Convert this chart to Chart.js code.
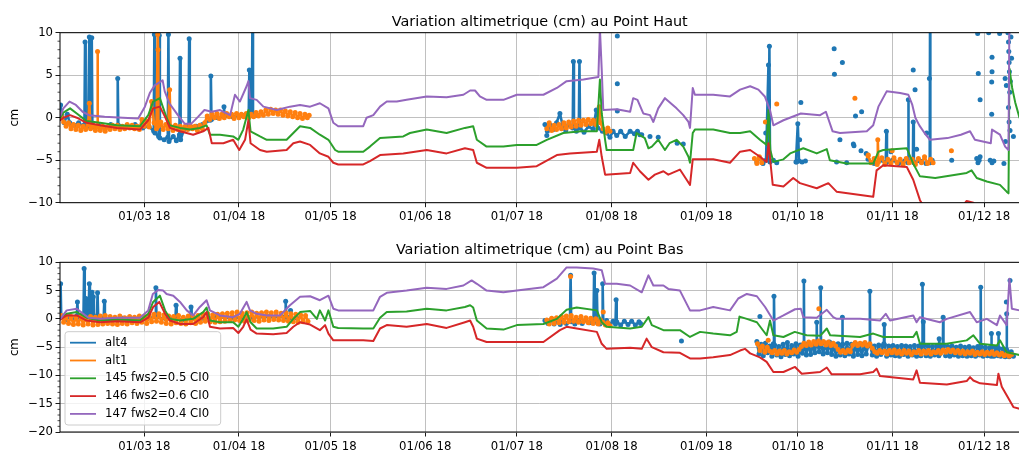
<!DOCTYPE html>
<html>
<head>
<meta charset="utf-8">
<script src="https://cdn.jsdelivr.net/npm/chart.js@4.4.0/dist/chart.umd.min.js"></script>
<style>
  body { margin: 0; background: #fff; }
  #fig { position: relative; width: 1019px; height: 450px; overflow: hidden; }
  #fig canvas { position: absolute; left: 0; }
</style>
</head>
<body>
<div id="fig">
  <canvas id="haut" width="1030" height="225" style="top:0"></canvas>
  <canvas id="bas" width="1030" height="225" style="top:225px"></canvas>
</div>
<script>
// x values are days counted from 1 Jan 2018 (day 0), y values in cm
const tickDays = [59, 90, 120, 151, 181, 212, 243, 273, 304, 334]
const tickLabels = ['01/03 18', '01/04 18', '01/05 18', '01/06 18', '01/07 18',
                    '01/08 18', '01/09 18', '01/10 18', '01/11 18', '01/12 18']
const seriesNames = ['alt4', 'alt1', '145 fws2=0.5 CI0', '146 fws2=0.6 CI0', '147 fws2=0.4 CI0']
const seriesColors = ['#1f77b4', '#ff7f0e', '#2ca02c', '#d62728', '#9467bd']

// ---------- Point Haut ----------
const hautAlt4 = [
  [31.6,1.5],[32.0,0.3],[32.8,-0.6],[33.8,0.4],[34.6,-0.6],[36.0,-0.9],[37.5,-0.6],[39.0,-1.0],
  [39.4,-0.8],[39.6,8.9],[39.8,-0.9],[40.6,-1.0],[41.0,9.5],[41.2,-0.8],[41.6,-1.0],[41.8,9.4],
  [42.0,-1.1],[44.0,-0.9],[46.0,-1.2],[48.0,-0.8],[50.1,-1.0],[50.3,4.6],[50.5,-0.9],[53.0,-1.1],
  [56.0,-0.8],[58.5,-1.2],[60.5,-1.0],[62.1,-1.6],[62.3,9.8],[62.5,-1.8],[63.7,-2.2],[63.9,9.7],
  [64.1,-2.4],[65.5,-2.6],[66.7,-2.3],[66.9,9.8],[67.1,-2.8],[68.5,-2.2],[69.5,-2.7],[70.5,-2.0],
  [70.7,7.0],[70.9,-2.6],[72.0,-1.4],[73.5,-1.0],[73.7,9.3],[73.9,-1.0],[76.0,-1.0],[78.0,-0.8],
  [80.6,-0.3],[80.8,4.9],[81.0,-0.2],[83.0,0.0],[84.9,0.2],[85.1,1.3],[85.3,0.2],[88.0,0.1],
  [91.0,0.3],[93.2,0.4],[93.4,5.6],[93.6,0.4],[94.2,0.3],[94.4,10.5],[94.6,0.4],[96.0,0.3],[96.1,null],
  [190.2,-0.8],[191.0,-1.6],[192.0,-0.9],[193.0,-1.4],[194.0,-0.6],[195.1,0.5],[196.0,-0.9],[197.0,-1.5],
  [198.0,-0.8],[199.3,-1.2],[199.5,6.6],[199.7,-1.0],[200.5,-1.6],[201.3,-1.0],[201.5,6.6],[201.7,-1.2],
  [203.0,-1.7],[204.5,-1.0],[206.0,-1.4],[207.0,0.9],[207.5,-1.2],[209.0,-1.6],[210.4,-1.8],[211.5,-2.3],
  [212.5,-1.6],[213.7,-2.1],[215.0,-1.6],[216.5,-2.2],[218.1,-1.6],[219.5,-1.9],[220.5,-1.6],[221.3,-2.0],[221.4,null],
  [259.6,-5.2],[260.6,-4.8],[261.6,-5.4],[262.6,-5.0],[263.4,6.2],[263.5,-4.9],[263.7,8.4],[263.9,-5.2],
  [265.0,-5.0],[266.1,-5.3],[266.2,null],
  [272.4,-5.2],[273.0,-0.7],[273.4,-5.1],[273.5,null],
  [296.0,-4.9],[298.0,-5.4],[300.0,-5.0],[301.8,-5.3],[302.0,-1.6],[302.2,-5.2],[304.0,-5.0],[306.0,-5.4],
  [308.0,-5.1],[309.1,-5.3],[309.2,2.1],[309.3,-5.2],[310.7,-5.0],[310.8,-0.5],[311.0,-5.3],[313.0,-5.1],
  [315.0,-5.4],[316.2,-5.2],[316.3,10.5],[316.4,-5.3],[317.0,-5.0]
]
const hautAlt4Dots = [
  [190.8,-2.1],[213.9,9.6],[213.9,4.0],[213.9,0.8],[221.9,-2.0],[224.6,-2.2],[227.3,-2.3],[233.5,-3.0],
  [235.5,-3.1],[262.5,-1.8],[272.6,-5.2],[273.6,-2.6],[274.0,1.8],[274.4,-5.2],[275.5,-5.1],[284.9,8.1],
  [285.0,5.1],[285.7,-5.2],[286.8,-2.6],[287.6,6.5],[289.0,-5.3],[291.2,-3.1],[291.4,-3.3],[291.9,0.2],
  [293.7,-3.9],[293.9,0.7],[295.4,-4.2],[303.5,-4.0],[310.8,5.6],[311.4,3.3],[311.9,-3.7],[315.2,-1.8],
  [316.1,4.6],[323.4,-5.0],[331.6,-4.8],[331.9,9.9],[332.0,-5.3],[332.1,5.2],[332.4,-5.0],[332.7,-4.6],
  [332.7,2.1],[335.5,10.0],[336.0,-5.0],[336.5,4.2],[336.5,0.4],[336.6,7.1],[336.6,5.4],[336.6,-5.3],
  [337.2,-5.1],[339.1,9.9],[340.5,-5.4],[340.9,4.6],[341.0,-2.8],[341.3,3.8],[341.8,10.0],[342.0,8.9],
  [342.0,1.2],[342.1,7.8],[342.2,6.5],[342.2,-0.5],[342.3,5.4],[342.4,3.0],[342.5,-1.5],[342.6,4.3],
  [342.8,9.5],[343.0,7.0],[343.6,-2.2]
]
const hautAlt1 = [
  [31.8,0.3],[32.6,-0.5],[33.4,-1.0],[34.2,-0.6],[35.0,-1.3],[35.8,-0.8],[36.6,-1.4],[37.4,-0.9],
  [38.2,-1.5],[39.0,-1.0],[39.8,-1.4],[40.6,-0.8],[41.0,1.7],[41.4,-1.3],[42.2,-0.9],[43.0,-1.5],
  [43.6,-1.0],[43.7,7.8],[43.8,-1.1],[44.6,-1.5],[45.4,-1.0],[46.2,-1.6],[47.0,-1.1],[47.8,-1.4],
  [48.6,-0.9],[49.4,-1.3],[50.2,-0.9],[51.0,-1.4],[51.8,-1.0],[52.6,-1.3],[53.4,-0.8],[54.2,-1.2],
  [55.0,-0.9],[55.8,-1.3],[56.6,-1.0],[57.4,-1.4],[58.2,-0.2],[59.0,-1.0],[59.8,-0.4],[60.6,-1.1],
  [61.4,1.9],[62.2,-0.6],[63.0,-1.3],[63.4,9.8],[63.5,8.0],[63.6,-1.0],[64.4,-0.5],[65.2,-1.4],
  [66.0,-0.8],[66.8,-1.3],[67.3,3.3],[67.6,-1.0],[68.4,-1.5],[69.2,-0.9],[70.0,-1.4],[70.8,-1.0],
  [71.6,-1.5],[72.4,-1.0],[73.2,-1.4],[74.0,-0.9],[74.8,-1.3],[75.6,-1.0],[76.4,-1.5],[77.2,-0.9],
  [78.0,-1.3],[78.8,-0.6],[79.6,0.2],[80.4,-0.2],[81.2,0.4],[82.0,0.0],[82.8,0.5],[83.6,-0.1],
  [84.4,0.4],[85.2,0.0],[86.0,0.5],[86.8,0.1],[87.6,0.4],[88.4,-0.1],[89.2,0.5],[90.0,0.0],
  [90.8,0.4],[91.6,0.1],[92.4,0.5],[93.2,0.0],[94.0,0.4],[94.8,0.1],[95.6,0.6],[96.4,0.2],
  [97.2,0.7],[98.0,0.3],[98.8,0.9],[99.6,0.4],[100.4,1.0],[101.2,0.5],[102.0,0.9],[102.8,0.4],
  [103.6,0.9],[104.4,0.3],[105.2,0.8],[106.0,0.2],[106.8,0.7],[107.6,0.1],[108.4,0.6],[109.2,0.0],
  [110.0,0.5],[110.8,-0.1],[111.6,0.4],[112.4,0.0],[113.0,0.3],[113.1,null],
  [190.8,-1.3],[191.6,-0.6],[192.4,-1.5],[193.2,-0.9],[194.0,-1.4],[194.8,-0.8],[195.6,-1.3],[196.4,-0.6],
  [197.2,-1.2],[198.0,-0.5],[198.8,-1.1],[199.6,-0.4],[200.4,-1.0],[201.2,-0.3],[202.0,-0.9],[202.8,-0.3],
  [203.6,-0.8],[204.4,-0.2],[205.2,-0.7],[206.0,-0.3],[206.8,-0.8],[207.6,-0.2],[208.0,1.3],[208.4,-0.6],
  [209.2,-1.3],[210.0,-1.7],[210.8,-1.2],[211.5,-1.6],[211.6,null],
  [258.8,-4.8],[259.6,-5.4],[260.4,-4.6],[261.2,-5.3],[261.6,null],
  [296.0,-4.5],[297.0,-5.3],[298.0,-4.8],[299.0,-5.5],[299.2,-2.6],[299.4,-5.2],[300.5,-4.7],[301.5,-5.5],
  [302.5,-4.9],[303.5,-5.4],[304.5,-4.7],[305.5,-5.3],[306.5,-4.9],[307.5,-5.5],[308.5,-4.8],[309.5,-5.3],
  [310.5,-4.9],[311.5,-5.5],[312.5,-4.8],[313.5,-5.3],[314.5,-4.6],[315.5,-5.4],[316.5,-4.9],[317.3,-5.3]
]
const hautAlt1Dots = [[262.4,-0.5],[266.1,1.6],[291.7,2.3],[296.1,-4.4],[303.9,-3.9],[323.3,-3.9]]
const haut145 = [
  [31.5,0.0],[32.5,0.6],[34.7,1.1],[36.9,0.5],[40.1,-0.4],[44.5,-0.6],[50.0,-0.9],[57.6,-1.0],
  [60.3,0.3],[61.9,1.9],[64.1,2.3],[66.3,0.0],[67.4,-0.9],[70.7,-1.2],[74.0,-1.4],[77.2,-1.2],
  [79.4,-0.9],[80.5,-2.0],[83.8,-2.0],[88.1,-2.2],[89.8,-2.6],[91.4,-1.4],[93.1,0.9],[93.8,-1.6],
  [96.9,-2.2],[99.1,-2.6],[105.6,-2.6],[107.8,-1.8],[110.0,-1.0],[113.3,-1.2],[116.5,-2.0],[119.3,-2.6],
  [121.5,-3.8],[122.5,-4.0],[130.7,-4.0],[132.9,-3.4],[136.2,-2.4],[143.8,-2.2],[146.0,-1.8],[151.5,-1.4],
  [158.0,-1.8],[164.0,-1.2],[166.7,-1.0],[167.9,-2.6],[171.1,-3.4],[176.6,-3.4],[181.0,-3.2],[187.5,-3.2],
  [190.8,-2.6],[196.2,-1.8],[202.0,-1.6],[207.2,-1.6],[208.2,4.5],[208.8,0.5],[209.9,-2.6],[210.4,-3.8],
  [219.1,-3.8],[220.2,-1.8],[222.9,-2.4],[224.1,-3.6],[225.2,-3.4],[227.3,-2.6],[229.5,-3.8],[231.0,-3.0],
  [233.3,-2.6],[235.5,-3.4],[237.2,-4.6],[237.7,-5.3],[238.6,-1.8],[239.3,-1.4],[245.3,-1.4],[250.8,-1.8],
  [254.1,-1.8],[257.4,-1.6],[260.6,-2.6],[262.8,-3.2],[263.4,0.9],[264.0,-3.8],[265.0,-5.2],[268.3,-4.9],
  [270.5,-4.2],[274.8,-3.6],[279.2,-4.2],[282.5,-3.7],[283.5,-5.0],[289.0,-5.4],[297.7,-5.4],[299.4,-4.0],
  [301.0,-3.8],[308.7,-3.6],[310.8,-5.4],[313.0,-6.9],[318.0,-7.1],[328.3,-6.5],[329.9,-6.2],[331.6,-7.1],
  [334.9,-7.5],[339.2,-7.9],[341.4,-8.7],[342.0,-8.9],[342.3,5.8],[343.2,3.5],[344.2,1.8],[345.6,0.0]
]
const haut146 = [
  [31.5,-0.3],[32.5,0.0],[34.7,0.3],[36.9,0.0],[40.1,-0.6],[44.5,-0.9],[50.0,-1.2],[57.6,-1.4],
  [60.3,-0.3],[61.9,1.1],[64.1,1.3],[65.8,0.1],[67.4,-1.2],[70.7,-1.6],[75.0,-2.0],[78.3,-1.6],
  [80.0,-1.2],[81.1,-3.0],[84.9,-3.0],[88.1,-2.6],[90.1,-3.8],[92.0,-2.6],[93.1,-0.3],[93.8,-3.0],
  [96.9,-3.8],[99.1,-4.0],[105.6,-3.8],[107.8,-3.0],[110.0,-2.8],[113.3,-3.2],[116.5,-4.2],[119.3,-4.6],
  [120.9,-5.3],[122.5,-5.5],[130.7,-5.5],[132.9,-5.1],[136.2,-4.4],[143.8,-4.2],[151.5,-3.8],[158.0,-4.2],
  [164.0,-3.6],[166.7,-3.8],[167.9,-5.3],[171.1,-5.9],[181.0,-5.9],[187.5,-5.7],[194.1,-4.4],[198.4,-4.2],
  [207.2,-4.0],[208.0,-2.6],[208.8,-4.6],[209.9,-6.7],[218.1,-6.5],[219.1,-5.3],[221.3,-6.3],[224.1,-7.3],
  [226.2,-6.7],[229.0,-6.3],[230.6,-6.7],[234.4,-6.1],[236.6,-7.3],[237.7,-7.9],[238.6,-4.9],[245.3,-4.9],
  [250.8,-5.3],[254.1,-4.0],[257.4,-3.8],[260.6,-4.6],[262.8,-5.2],[263.4,-3.0],[264.2,-5.8],[264.8,-7.9],
  [268.3,-8.1],[271.5,-7.1],[273.7,-7.7],[279.2,-8.3],[283.0,-7.7],[285.7,-8.7],[297.7,-9.3],[298.8,-6.2],
  [301.0,-5.6],[308.7,-5.8],[310.8,-7.3],[313.0,-9.7],[314.5,-10.6],[326.0,-10.8],[328.3,-9.8],[330.5,-10.0],
  [331.5,-10.7],[340.0,-11.2],[345.6,-11.5]
]
const haut147 = [
  [31.5,0.2],[32.5,1.1],[34.5,1.9],[36.6,1.5],[38.8,0.7],[40.9,0.3],[46.0,0.1],[52.0,0.0],
  [57.0,-0.1],[59.2,1.3],[60.8,2.9],[62.4,3.8],[65.0,4.4],[65.7,3.1],[67.2,1.7],[70.0,0.3],
  [72.2,-0.7],[74.4,-0.7],[76.6,0.1],[78.7,0.9],[81.1,0.7],[83.8,0.9],[87.1,0.3],[88.7,2.7],
  [90.3,1.9],[92.5,3.7],[93.1,4.3],[93.6,2.3],[95.8,2.1],[98.0,1.3],[102.4,0.9],[106.7,1.3],
  [110.0,1.5],[113.3,1.3],[116.5,1.7],[119.3,1.1],[120.9,-0.6],[122.5,-1.0],[130.7,-1.0],[131.8,0.0],
  [134.0,0.3],[136.2,1.3],[138.4,1.9],[141.7,1.9],[144.9,2.1],[151.5,2.5],[158.0,2.4],[163.5,2.7],
  [165.7,3.2],[167.3,3.2],[168.9,2.5],[171.1,2.1],[176.6,2.1],[181.0,2.7],[189.7,2.7],[194.1,3.5],
  [197.3,4.3],[202.8,4.5],[207.7,4.8],[208.2,10.5],[208.8,5.6],[209.3,0.9],[213.7,1.0],[218.1,0.7],
  [219.1,2.3],[220.5,2.1],[222.4,0.5],[224.6,0.3],[225.7,-0.5],[227.3,1.1],[229.5,2.3],[233.3,1.1],
  [235.5,0.3],[237.2,-0.5],[237.7,-1.2],[238.6,3.5],[239.3,2.7],[245.3,2.7],[250.8,2.5],[254.1,3.3],
  [257.4,3.7],[260.1,3.3],[262.2,2.5],[263.9,0.9],[265.0,-0.9],[268.3,-0.3],[274.0,0.5],[280.3,0.3],
  [282.2,0.7],[284.4,-1.6],[286.8,-1.8],[295.6,-1.6],[297.7,-0.9],[299.4,1.3],[302.1,3.1],[306.5,2.9],
  [309.2,2.7],[310.5,1.5],[311.5,0.0],[312.8,-0.9],[314.5,-1.8],[316.3,-2.6],[322.0,-2.4],[326.4,-2.0],
  [329.4,-1.6],[331.0,-2.6],[336.2,-3.0],[336.6,-1.4],[339.2,-2.0],[340.9,-3.4],[342.0,-3.8],[342.3,12.0],
  [345.6,12.0]
]

// ---------- Point Bas ----------
const basAlt4 = [
  [31.6,6.2],[31.8,0.3],[33.0,-0.2],[34.5,0.4],[36.0,0.0],[36.9,0.5],[37.1,3.0],[37.3,0.3],
  [38.5,0.2],[39.1,0.8],[39.3,8.9],[39.5,1.0],[39.9,3.6],[40.1,0.5],[40.3,3.0],[40.5,0.7],
  [40.8,2.0],[41.0,6.2],[41.2,1.2],[41.4,3.9],[41.6,0.8],[41.9,4.7],[42.1,1.0],[42.3,3.9],
  [42.5,0.5],[43.5,0.3],[43.7,4.6],[43.9,0.3],[45.7,0.1],[45.9,3.1],[46.1,0.1],[48.0,-0.2],
  [52.0,0.1],[56.0,-0.3],[60.0,0.0],[62.6,0.4],[62.8,5.5],[63.0,0.3],[66.0,0.0],[69.2,0.2],
  [69.4,2.4],[69.6,0.1],[72.0,-0.2],[74.1,0.2],[74.3,2.1],[74.5,0.0],[78.0,0.1],[82.0,0.3],
  [88.0,0.2],[94.0,0.3],[100.0,0.4],[105.1,0.4],[105.3,3.1],[105.5,0.3],[106.7,0.3],[106.9,1.5],
  [107.1,0.2],[109.0,0.1],[109.1,null],
  [190.2,-0.3],[191.2,-0.8],[192.2,-0.2],[193.2,-0.9],[194.2,-0.4],[195.2,-1.0],[196.2,-0.3],[197.2,-0.8],
  [198.4,-0.4],[198.6,7.7],[198.8,-0.5],[200.0,-0.9],[201.2,-0.3],[202.4,-0.8],[203.6,-0.2],[204.8,-0.7],
  [206.1,-0.3],[206.3,8.1],[206.5,-0.4],[207.0,-0.6],[207.2,5.0],[207.4,-0.5],[208.2,-0.9],[208.9,-0.4],
  [209.1,6.2],[209.3,-0.6],[210.4,-0.3],[211.5,-1.0],[212.5,-0.4],[213.3,-0.9],[213.5,3.4],[213.7,-0.5],
  [215.0,-1.1],[216.2,-0.4],[217.4,-1.0],[218.6,-0.4],[219.8,-1.1],[221.0,-0.5],[221.5,-0.8],[221.6,null],
  [259.6,-4.0],[260.3,-6.2],[261.0,-4.5],[261.7,-6.5],[262.4,-4.3],[263.1,-6.0],[263.8,-4.8],[264.5,-6.6],
  [265.0,-4.4],[265.2,4.0],[265.4,-4.6],[266.1,-6.4],[266.8,-4.9],[267.5,-6.7],[268.2,-4.5],[268.9,-6.3],
  [269.6,-4.2],[270.3,-6.5],[271.0,-4.7],[271.7,-6.2],[272.4,-4.4],[273.1,-6.6],[273.8,-4.6],[274.5,-6.1],
  [274.9,-4.5],[275.0,6.7],[275.1,-4.6],[275.8,-6.4],[276.5,-4.3],[277.2,-6.3],[277.9,-4.6],[278.6,-6.0],
  [279.1,-4.1],[279.2,-0.6],[279.3,-4.2],[280.0,-5.8],[280.4,-4.0],[280.5,5.5],[280.6,-4.2],[281.3,-6.2],
  [282.0,-4.3],[282.7,-6.0],[283.4,-4.1],[284.1,-6.3],[284.8,-4.5],[285.5,-6.6],[286.2,-4.4],[286.9,-6.4],
  [287.5,-4.6],[287.6,0.3],[287.7,-4.5],[288.4,-6.5],[289.1,-4.3],[289.8,-6.2],[290.5,-4.5],[291.2,-6.6],
  [291.9,-4.4],[292.6,-6.3],[293.3,-4.6],[294.0,-6.5],[294.7,-4.4],[295.4,-6.2],[296.1,-4.7],[296.5,-4.5],
  [296.6,4.9],[296.7,-4.6],[297.4,-6.4],[298.1,-4.8],[298.8,-6.6],[299.5,-4.6],[300.2,-6.3],[300.9,-4.7],
  [301.2,-4.4],[301.3,-1.0],[301.4,-4.6],[302.1,-6.6],[302.8,-4.8],[303.5,-6.4],[304.2,-4.7],[304.9,-6.5],
  [305.6,-4.9],[306.3,-6.6],[307.0,-4.7],[307.7,-6.3],[308.4,-4.8],[309.1,-6.6],[309.8,-4.9],[310.5,-6.4],
  [311.2,-4.7],[311.9,-6.6],[312.6,-4.8],[313.3,-6.5],[313.7,-4.6],[313.8,6.1],[313.9,-4.4],[314.1,-0.5],
  [314.3,-4.6],[315.0,-6.5],[315.7,-4.8],[316.4,-6.6],[317.1,-4.9],[317.8,-6.4],[318.5,-4.7],[319.2,-6.5],
  [319.3,-3.5],[319.4,-6.2],[320.1,-4.8],[320.5,-4.6],[320.6,0.3],[320.7,-4.7],[321.4,-6.5],[322.1,-4.9],
  [322.8,-6.6],[323.5,-4.8],[324.2,-6.4],[324.9,-5.0],[325.6,-6.6],[326.3,-4.8],[327.0,-6.5],[327.7,-5.0],
  [328.4,-6.6],[329.1,-4.9],[329.8,-6.5],[330.5,-5.1],[331.2,-6.6],[331.9,-4.9],[332.6,-6.4],[332.8,-4.8],
  [332.9,5.6],[333.0,-4.9],[333.7,-6.6],[334.4,-5.0],[335.1,-6.5],[335.8,-5.1],[336.3,-6.6],[336.4,-2.6],
  [336.5,-5.0],[337.2,-6.6],[337.9,-5.1],[338.6,-6.5],[338.7,-2.6],[338.8,-5.2],[339.5,-6.6],[340.2,-5.3],
  [340.9,-6.7],[341.3,-5.4],[341.4,0.9],[341.5,-5.6],[342.2,-6.7],[342.9,-5.8],[343.6,-6.6]
]
const basAlt4Dots = [[234.9,-3.9],[260.6,0.4],[341.3,3.0],[342.5,6.8]]
const basAlt1 = [
  [31.8,0.6],[32.6,-0.6],[33.4,0.5],[34.2,-0.8],[35.0,0.4],[35.8,-1.0],[36.6,0.3],[37.4,-0.9],
  [38.2,0.5],[39.0,-1.1],[39.8,0.2],[40.6,-0.9],[41.4,0.4],[42.2,-1.1],[43.0,0.3],[43.8,-1.0],
  [44.6,0.5],[45.4,-0.9],[46.2,0.6],[47.0,-0.8],[47.8,0.4],[48.6,-0.9],[49.4,0.3],[50.2,-1.0],
  [51.0,0.5],[51.8,-0.8],[52.6,0.2],[53.4,-0.9],[54.2,0.4],[55.0,-0.7],[55.8,0.3],[56.6,-0.8],
  [57.4,0.5],[58.2,-0.6],[59.0,0.4],[59.8,-0.8],[60.6,0.6],[61.4,-0.5],[62.2,0.8],[63.0,-0.4],
  [63.8,0.9],[64.6,-0.6],[65.4,0.7],[66.2,-0.8],[67.0,0.5],[67.8,-0.9],[68.6,0.4],[69.4,-0.7],
  [70.2,0.6],[71.0,-0.8],[71.8,0.3],[72.6,-0.9],[73.4,0.5],[74.2,-0.7],[75.0,0.4],[75.8,-0.8],
  [76.6,0.6],[77.4,-0.6],[78.2,0.8],[79.0,-0.4],[79.8,0.9],[80.6,-0.5],[81.4,0.7],[82.2,-0.6],
  [83.0,0.8],[83.8,-0.5],[84.6,0.9],[85.4,-0.4],[86.2,1.0],[87.0,-0.3],[87.8,1.1],[88.6,-0.2],
  [89.4,1.2],[90.2,-0.3],[91.0,1.0],[91.8,-0.4],[92.6,1.1],[93.4,-0.2],[94.2,1.2],[95.0,-0.3],
  [95.8,1.0],[96.6,-0.4],[97.4,1.1],[98.2,-0.2],[99.0,1.2],[99.8,-0.3],[100.6,1.1],[101.4,-0.1],
  [102.2,1.2],[103.0,-0.2],[103.8,1.0],[104.6,-0.3],[105.4,1.1],[106.2,-0.4],[107.0,0.9],[107.8,-0.5],
  [108.6,0.8],[109.4,-0.6],[110.2,0.7],[111.0,-0.5],[111.8,0.6],[112.6,-0.4],[112.7,null],
  [190.8,-0.2],[191.6,-0.9],[192.4,0.1],[193.2,-0.8],[194.0,0.2],[194.8,-0.7],[195.6,0.4],[196.4,-0.6],
  [197.2,0.5],[198.0,-0.5],[198.8,0.6],[199.6,-0.4],[200.4,0.3],[201.2,-0.6],[202.0,0.4],[202.8,-0.5],
  [203.6,0.2],[204.4,-0.7],[205.2,0.1],[206.0,-0.8],[206.8,0.0],[207.6,-0.9],[208.4,-0.2],[209.2,-0.6],
  [210.0,-1.1],[210.8,-0.7],[211.5,-1.2],[211.6,null],
  [259.8,-4.4],[260.6,-5.6],[261.4,-4.8],[262.2,-5.9],[263.0,-5.0],[263.8,-5.7],[264.6,-6.0],[265.4,-5.6],
  [266.2,-6.2],[267.0,-5.7],[267.8,-6.1],[268.6,-5.6],[269.4,-6.2],[270.2,-5.8],[271.0,-6.0],[271.8,-5.5],
  [272.6,-5.9],[273.4,-5.4],[274.2,-4.9],[275.0,-4.3],[275.8,-4.7],[276.6,-4.1],[277.4,-4.6],[278.2,-4.0],
  [279.0,-4.5],[279.8,-3.9],[280.6,-4.4],[281.4,-4.0],[282.2,-4.6],[283.0,-4.1],[283.8,-4.7],[284.6,-4.3],
  [285.4,-4.8],[286.2,-5.4],[287.0,-5.9],[287.8,-5.6],[288.6,-6.0],[289.4,-5.5],[290.2,-5.8],[291.0,-4.6],
  [291.8,-4.2],[292.6,-4.7],[293.4,-4.3],[294.2,-4.6],[295.0,-4.2],[295.8,-4.8],[296.6,-4.4],[297.4,-5.2],
  [298.2,-5.8],[299.0,-6.1],[299.8,-5.6],[300.6,-6.0],[301.4,-5.7],[302.2,-6.2],[303.0,-5.6],[303.8,-6.0],
  [304.6,-5.5],[305.4,-6.1],[306.2,-5.7],[307.0,-6.2],[307.8,-5.6],[308.6,-6.1],[309.4,-5.7],[310.2,-6.3],
  [311.0,-5.8],[311.8,-6.0],[312.6,-5.6],[313.4,-6.2],[314.2,-5.7],[315.0,-6.1],[315.8,-5.6],[316.6,-6.2],
  [317.4,-5.8],[318.2,-6.0],[319.0,-5.6],[319.8,-6.1],[320.6,-5.5],[321.4,-5.9],[322.2,-5.4],[323.0,-5.8],
  [323.8,-5.5],[324.6,-6.0],[325.4,-5.6],[326.2,-6.1],[327.0,-5.7],[327.8,-6.2],[328.6,-5.8],[329.4,-6.1],
  [330.2,-5.7],[331.0,-6.3],[331.8,-5.9],[332.6,-6.2],[333.4,-5.8],[334.2,-6.3],[335.0,-5.9],[335.8,-6.2],
  [336.6,-5.8],[337.4,-6.3],[338.2,-6.0],[339.0,-6.4],[339.8,-6.1],[340.6,-6.5],[341.4,-6.2],[342.2,-6.6],
  [343.0,-6.3]
]
const basAlt1Dots = [[198.6,7.5],[209.3,1.2],[263.3,-3.8],[279.9,1.8]]
const bas145 = [
  [31.5,0.0],[33.6,0.9],[36.9,1.2],[40.1,0.2],[44.5,-0.3],[50.0,-0.1],[57.6,-0.3],[60.3,0.9],
  [61.9,3.0],[64.1,4.1],[65.8,1.5],[67.4,0.0],[70.7,-0.3],[75.0,0.0],[78.3,1.2],[79.4,2.0],
  [80.5,-0.3],[83.8,-0.6],[88.1,-0.6],[89.8,-1.4],[91.4,0.0],[92.5,1.2],[93.8,-0.6],[95.8,-1.7],
  [101.2,-1.7],[105.6,-1.4],[107.8,0.0],[110.0,1.2],[113.3,1.4],[115.5,0.0],[116.5,1.5],[118.2,-0.3],
  [119.3,1.5],[120.9,-1.4],[122.5,-1.6],[130.7,-1.7],[134.0,-1.7],[136.2,0.2],[138.4,1.2],[144.9,1.3],
  [151.5,1.8],[158.0,1.5],[164.0,2.1],[165.7,2.4],[166.7,2.0],[167.9,-0.3],[171.1,-1.7],[176.6,-1.9],
  [181.0,-1.1],[189.7,-0.9],[194.1,0.0],[197.3,1.6],[200.6,2.0],[207.2,1.5],[208.8,-0.6],[210.4,-1.4],
  [218.1,-1.7],[221.9,-1.4],[224.1,0.3],[225.2,-1.1],[229.0,-2.0],[234.4,-2.0],[237.7,-3.2],[241.0,-2.3],
  [245.3,-2.6],[250.8,-2.9],[253.0,-2.3],[253.9,0.4],[256.3,0.0],[259.6,-0.6],[262.8,-2.9],[263.9,-0.3],
  [265.0,-2.9],[268.3,-3.2],[272.0,-2.3],[275.9,-2.9],[280.3,-3.0],[282.5,-1.7],[283.6,-2.9],[293.4,-3.2],
  [297.7,-2.6],[301.0,-3.2],[310.8,-3.2],[311.9,-2.3],[313.0,-4.4],[321.8,-4.4],[328.3,-3.8],[330.5,-2.9],
  [332.7,-4.4],[338.2,-4.7],[339.2,-3.8],[341.4,-5.9],[345.6,-6.4]
]
const bas146 = [
  [31.5,-0.1],[33.6,0.6],[36.9,0.6],[40.1,-0.3],[44.5,-0.6],[50.0,-0.4],[57.6,-0.6],[60.3,0.2],
  [61.9,2.1],[63.9,3.0],[65.8,0.9],[67.4,-0.3],[70.7,-0.9],[75.0,-0.9],[78.3,0.3],[79.4,1.2],
  [80.5,-1.4],[83.8,-1.7],[88.1,-1.6],[89.8,-2.5],[91.4,-1.4],[92.5,-0.1],[93.8,-1.9],[95.8,-2.6],
  [101.2,-2.7],[105.6,-2.5],[107.8,-1.4],[110.0,-0.6],[113.3,-1.0],[116.5,-2.0],[118.2,-1.1],[119.3,-2.6],
  [120.9,-3.8],[122.5,-3.8],[130.7,-3.8],[134.0,-3.9],[136.2,-1.7],[138.4,-1.1],[144.9,-1.4],[151.5,-0.9],
  [158.0,-1.6],[164.0,-0.6],[165.7,-0.3],[166.7,-1.4],[167.9,-3.5],[171.1,-4.1],[181.0,-4.1],[189.7,-4.1],
  [195.1,-2.0],[197.3,-1.4],[200.6,-1.7],[207.2,-2.3],[208.8,-4.4],[210.4,-5.3],[218.1,-5.1],[221.9,-5.3],
  [223.5,-3.5],[225.2,-5.0],[229.0,-5.9],[234.4,-6.0],[237.7,-7.0],[241.0,-7.0],[245.3,-6.8],[250.8,-6.4],
  [254.1,-5.6],[255.7,-5.3],[257.4,-6.1],[260.6,-6.8],[262.8,-7.6],[265.0,-9.4],[268.3,-9.4],[272.1,-8.5],
  [274.3,-9.7],[280.3,-9.4],[282.5,-8.6],[284.1,-9.8],[293.4,-9.8],[297.7,-9.4],[298.8,-8.8],[299.9,-10.1],
  [310.8,-10.7],[311.9,-9.1],[313.0,-11.3],[321.8,-11.6],[328.3,-11.0],[329.4,-10.3],[330.5,-10.9],[332.7,-11.4],
  [338.2,-11.7],[338.7,-9.7],[339.8,-12.0],[341.4,-13.5],[343.6,-15.6],[345.6,-15.9]
]
const bas147 = [
  [31.5,0.0],[33.6,1.5],[36.9,1.8],[39.0,0.9],[40.7,0.2],[44.5,0.0],[50.0,0.2],[57.6,0.2],
  [60.3,1.5],[61.8,4.4],[63.6,5.1],[65.2,5.0],[66.3,4.4],[68.5,4.1],[70.7,3.0],[72.9,1.5],
  [75.0,0.6],[77.2,2.1],[79.4,3.3],[80.5,1.5],[83.8,0.6],[88.1,0.3],[90.3,0.9],[92.5,3.0],
  [93.6,1.5],[95.8,0.9],[99.1,0.6],[103.4,0.6],[106.7,2.4],[110.0,3.9],[113.3,4.0],[116.5,3.3],
  [119.3,4.1],[120.9,1.8],[122.5,1.5],[130.7,1.5],[134.0,1.5],[136.2,3.9],[138.4,4.6],[144.9,5.0],
  [151.5,5.5],[158.0,5.3],[163.5,5.9],[166.2,6.8],[167.9,6.2],[171.1,5.0],[176.6,4.7],[181.0,5.0],
  [189.7,5.6],[194.1,7.1],[197.3,9.1],[200.6,9.1],[206.0,8.9],[208.8,8.6],[209.9,6.2],[213.7,6.2],
  [218.1,5.9],[221.9,4.7],[224.1,7.7],[225.7,5.9],[229.0,5.9],[230.6,5.3],[234.4,5.0],[237.7,1.5],
  [241.0,1.5],[245.3,2.1],[250.8,1.5],[253.5,3.6],[256.3,4.4],[259.6,4.0],[262.3,2.1],[265.0,-0.3],
  [268.3,0.6],[272.1,1.7],[274.0,1.8],[274.8,0.3],[279.2,0.2],[282.5,1.6],[284.6,0.3],[285.7,0.0],
  [293.4,0.0],[299.9,-0.3],[301.8,0.9],[303.2,-0.3],[310.8,0.6],[311.9,-0.6],[313.0,0.3],[319.5,-0.6],
  [321.8,0.0],[329.4,1.2],[331.6,-0.6],[334.9,0.0],[338.2,-1.1],[339.2,0.6],[341.4,-1.1],[342.3,7.1],
  [343.1,1.8],[345.6,1.5]
]

const FONT = '"DejaVu Sans", sans-serif'
Chart.defaults.font.family = FONT
Chart.defaults.font.size = 11.7
Chart.defaults.color = '#000'

function roundedRect(ctx, x, y, w, h, r) {
    ctx.beginPath()
    ctx.moveTo(x + r, y)
    ctx.arcTo(x + w, y, x + w, y + h, r)
    ctx.arcTo(x + w, y + h, x, y + h, r)
    ctx.arcTo(x, y + h, x, y, r)
    ctx.arcTo(x, y, x + w, y, r)
    ctx.closePath()
}

// axes frame, minor y ticks, title and (optionally) the legend box
const frame = {
    id: 'frame',
    afterDatasetsDraw(chart, args, opts) {
        const ctx = chart.ctx
        const a = chart.chartArea
        const y = chart.scales.y
        ctx.save()
        ctx.strokeStyle = '#000'
        ctx.lineWidth = 0.7
        for (let v = Math.ceil(y.min); v <= y.max; v++) {
            if (v % 5 === 0) continue
            const py = y.getPixelForValue(v)
            ctx.beginPath()
            ctx.moveTo(a.left - 2.5, py)
            ctx.lineTo(a.left, py)
            ctx.stroke()
        }
        ctx.lineWidth = 1
        ctx.strokeRect(a.left, a.top, a.right - a.left, a.bottom - a.top)

        ctx.fillStyle = '#000'
        ctx.font = '14.4px ' + FONT
        ctx.textAlign = 'center'
        ctx.textBaseline = 'alphabetic'
        ctx.fillText(opts.title, (a.left + a.right) / 2, opts.titleY)

        const lg = opts.legend
        if (lg) {
            roundedRect(ctx, lg.x, lg.y, lg.w, lg.h, 3)
            ctx.fillStyle = 'rgba(255,255,255,0.8)'
            ctx.fill()
            ctx.strokeStyle = '#cccccc'
            ctx.lineWidth = 1
            ctx.stroke()
            ctx.font = '11.7px ' + FONT
            ctx.textAlign = 'left'
            ctx.textBaseline = 'middle'
            seriesNames.forEach((name, i) => {
                const yy = lg.y + 11 + i * 17.8
                ctx.strokeStyle = seriesColors[i]
                ctx.lineWidth = 1.8
                ctx.beginPath()
                ctx.moveTo(lg.x + 5, yy)
                ctx.lineTo(lg.x + 31, yy)
                ctx.stroke()
                ctx.fillStyle = '#000'
                ctx.fillText(name, lg.x + 40, yy)
            })
        }
        ctx.restore()
    }
}

function line(data, i, order) {
    return {
        label: seriesNames[i], data, order,
        borderColor: seriesColors[i], backgroundColor: seriesColors[i],
        borderWidth: 2, pointRadius: 0,
        borderJoinStyle: 'round', borderCapStyle: 'round',
    }
}
// alt4 / alt1 are drawn with a dot on every reading, like the logger output
function marked(data, i, order) {
    return Object.assign(line(data, i, order), { borderWidth: 2.6, pointRadius: 2.5, pointBorderWidth: 0 })
}
function dots(data, i, order) {
    return Object.assign(marked(data, i, order), { showLine: false })
}

function makeChart(id, title, titleY, top, axisH, yMin, yMax, series, legend) {
    const [alt4, alt4Dots, alt1, alt1Dots, s145, s146, s147] = series
    return new Chart(document.getElementById(id), {
        type: 'line',
        data: {
            datasets: [
                marked(alt4, 0, 7), dots(alt4Dots, 0, 6),
                marked(alt1, 1, 5), dots(alt1Dots, 1, 4),
                line(s145, 2, 3), line(s146, 3, 2), line(s147, 4, 1),
            ]
        },
        options: {
            responsive: false,
            animation: false,
            events: [],
            layout: { padding: { top, right: 10.5, left: 0, bottom: 0 } },
            plugins: {
                legend: { display: false },
                tooltip: { enabled: false },
                frame: { title, titleY, legend },
            },
            scales: {
                x: {
                    type: 'linear', min: 31.4, max: 345.6,
                    afterBuildTicks: s => { s.ticks = tickDays.map(v => ({ value: v })) },
                    afterFit: s => { s.height = axisH },
                    border: { display: false },
                    grid: { color: '#b0b0b0', lineWidth: 0.8, tickColor: '#000', tickLength: 4.5, tickWidth: 0.9 },
                    ticks: { autoSkip: false, maxRotation: 0, padding: 3, callback: (v, i) => tickLabels[i] },
                },
                y: {
                    min: yMin, max: yMax,
                    afterFit: s => { s.width = 60 },
                    border: { display: false },
                    grid: { color: '#b0b0b0', lineWidth: 0.8, tickColor: '#000', tickLength: 4.5, tickWidth: 0.9 },
                    ticks: { stepSize: 5, padding: 2.5, callback: v => v < 0 ? '\u2212' + (-v) : String(v) },
                    title: { display: true, text: 'cm', padding: { top: 8, bottom: 0 } },
                },
            },
        },
        plugins: [frame],
    })
}

makeChart('haut', 'Variation altimetrique (cm) au Point Haut', 25.5, 32.7, 22.3, -10, 10,
    [hautAlt4, hautAlt4Dots, hautAlt1, hautAlt1Dots, haut145, haut146, haut147], null)
makeChart('bas', 'Variation altimetrique (cm) au Point Bas', 29, 37.3, 18, -20, 10,
    [basAlt4, basAlt4Dots, basAlt1, basAlt1Dots, bas145, bas146, bas147],
    { x: 65, y: 106.7, w: 155.7, h: 93.3 })
</script>
</body>
</html>
